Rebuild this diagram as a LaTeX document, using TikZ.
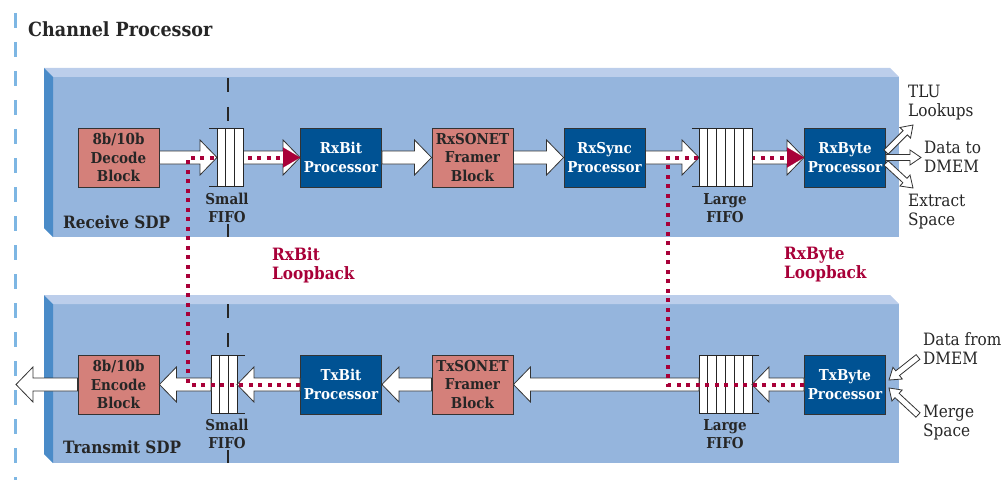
\documentclass[tikz,border=0pt]{standalone}
\usepackage{fontspec}
\setmainfont{DejaVu Serif Condensed}
\usetikzlibrary{calc,arrows.meta}

\definecolor{panelfront}{HTML}{95B5DD}
\definecolor{paneltop}{HTML}{BCCEEB}
\definecolor{panelside}{HTML}{4A8BC8}
\definecolor{salmon}{HTML}{D4807A}
\definecolor{procblue}{HTML}{005293}
\definecolor{loopred}{HTML}{A80038}
\definecolor{edgegray}{HTML}{333333}
\definecolor{sidedash}{HTML}{7DB6E3}

\tikzset{
  block/.style={draw=edgegray, line width=0.9pt, minimum width=81pt, minimum height=59pt,
    inner sep=0pt, align=center, font=\fontsize{15}{18.5}\selectfont\bfseries},
  framer/.style={block, fill=salmon, text=black!85},
  proc/.style={block, fill=procblue, text=white},
  fifo/.style={minimum height=58pt, inner sep=0pt, outer sep=0pt},
  fatarr/.style={draw=edgegray, line width=0.8pt, fill=white, line join=miter},
  loopline/.style={loopred, line width=4pt, dash pattern=on 4pt off 5.5pt,
    -{Triangle[length=17pt,width=20pt,line width=0.1pt]}},
  looplabel/.style={loopred, align=left, anchor=west, inner sep=0pt,
    font=\fontsize{17}{19}\selectfont\bfseries},
  sidelabel/.style={align=left, anchor=west, inner sep=0pt,
    font=\fontsize{17}{19}\selectfont, text=black!85},
  fifolabel/.style={align=center, fill=panelfront, inner sep=1pt,
    font=\fontsize{15}{18}\selectfont\bfseries, text=black!85},
  sdplabel/.style={anchor=base west, inner sep=0pt,
    font=\fontsize{17}{19}\selectfont\bfseries, text=black!85},
}

% fat white arrow: start, tip, shaft half width, head half width, head length
\newcommand\fatarrow[5]{%
  \coordinate (fa-base) at ($(#2)!#5!(#1)$);
  \draw[fatarr] ($(#1)!#3!90:(#2)$) -- ($(fa-base)!#3!90:(#2)$) -- ($(fa-base)!#4!90:(#2)$)
    -- (#2) -- ($(fa-base)!#4!-90:(#2)$) -- ($(fa-base)!#3!-90:(#2)$) -- ($(#1)!#3!-90:(#2)$) -- cycle;}

% fifo cells: node, number of cells, open side, length of open lines
\newcommand\fifocells[4]{%
  \draw[fill=white, draw=black!85, line width=0.9pt] (#1.north west) rectangle (#1.south east);
  \foreach \i in {1,...,#2}
    \draw[black!85, line width=0.9pt] ($(#1.north west)!\i/#2!(#1.north east)$) -- ($(#1.south west)!\i/#2!(#1.south east)$);
  \draw[black!85, line width=0.9pt] (#1.north #3) -- ++(#4,0) (#1.south #3) -- ++(#4,0);}

\begin{document}
\begin{tikzpicture}[x=1pt,y=-1pt]
\useasboundingbox (0,0) rectangle (1006,492);
% frame of the channel processor
\draw[sidedash, line width=3pt, dash pattern=on 15pt off 14pt] (15,13) -- (15,480);
\node[anchor=base west, inner sep=0pt, font=\fontsize{19.5}{22}\selectfont\bfseries, text=black!85] (title) at (28,37) {Channel Processor};

% the two SDP panels
\fill[panelfront] (53,77) rectangle (899,237);
\fill[paneltop] (44,68) -- (890,68) -- (899,77) -- (53,77) -- cycle;
\fill[panelside] (44,68) -- (53,77) -- (53,237) -- (44,228) -- cycle;
\fill[panelfront] (53,304) rectangle (899,463);
\fill[paneltop] (44,295) -- (890,295) -- (899,304) -- (53,304) -- cycle;
\fill[panelside] (44,295) -- (53,304) -- (53,463) -- (44,454) -- cycle;
\draw[black!85, line width=1.8pt, dash pattern=on 14pt off 15pt] (228,78) -- (228,237);
\draw[black!85, line width=1.8pt, dash pattern=on 14pt off 15pt] (228,304) -- (228,463);

% receive blocks
\node[framer] (dec) at (118.5,157.5) {8b/10b\\Decode\\Block};
\node[fifo, minimum width=26pt] (rxsf) at (230,157.5) {};
\node[proc] (rxbit) at (341,157.5) {RxBit\\Processor};
\node[framer] (rxsonet) at (472.5,157.5) {RxSONET\\Framer\\Block};
\node[proc] (rxsync) at (604.5,157.5) {RxSync\\Processor};
\node[fifo, minimum width=53pt] (rxlf) at (725.5,157.5) {};
\node[proc] (rxbyte) at (845,157.5) {RxByte\\Processor};

% transmit blocks
\node[framer] (enc) at (118.5,384.5) {8b/10b\\Encode\\Block};
\node[fifo, minimum width=26pt] (txsf) at (224,384.5) {};
\node[proc] (txbit) at (341,384.5) {TxBit\\Processor};
\node[framer] (txsonet) at (472.5,384.5) {TxSONET\\Framer\\Block};
\node[fifo, minimum width=53pt] (txlf) at (725.5,384.5) {};
\node[proc] (txbyte) at (845,384.5) {TxByte\\Processor};
\fifocells{txsf}{3}{east}{8}
\fifocells{txlf}{6}{east}{7}

% data path
\fatarrow{dec.east}{rxsf.west}{6.5pt}{17.5pt}{17pt}
\fatarrow{rxsf.east}{rxbit.west}{6.5pt}{17.5pt}{17pt}
\fatarrow{rxbit.east}{rxsonet.west}{6.5pt}{17.5pt}{17pt}
\fatarrow{rxsonet.east}{rxsync.west}{6.5pt}{17.5pt}{17pt}
\fatarrow{rxsync.east}{rxlf.west}{6.5pt}{17.5pt}{17pt}
\fatarrow{rxlf.east}{rxbyte.west}{6.5pt}{17.5pt}{17pt}
\coordinate (out) at (16,384.5);
\fatarrow{txbyte.west}{txlf.east}{6.5pt}{17.5pt}{17pt}
\fatarrow{txlf.west}{txsonet.east}{6.5pt}{17.5pt}{17pt}
\fatarrow{txsonet.west}{txbit.east}{6.5pt}{17.5pt}{17pt}
\fatarrow{txbit.west}{txsf.east}{6.5pt}{17.5pt}{17pt}
\fatarrow{txsf.west}{enc.east}{6.5pt}{17.5pt}{17pt}
\fatarrow{enc.west}{out}{6.5pt}{17.5pt}{17pt}

% small arrows at the byte processors
\coordinate (rxb1) at (886,152);
\coordinate (rxb3) at (886,163);
\coordinate (tluin) at (913,125);
\coordinate (dmemout) at (921,157.5);
\coordinate (extract) at (913,188);
\fatarrow{rxb1}{tluin}{3pt}{7.5pt}{11pt}
\fatarrow{rxb3}{extract}{3pt}{7.5pt}{11pt}
\fatarrow{rxbyte.east}{dmemout}{3pt}{7.5pt}{11pt}
\coordinate (dmemin) at (918,357);
\coordinate (mergein) at (918,415);
\coordinate (txb1) at (889,380);
\coordinate (txb2) at (889,388);
\fatarrow{dmemin}{txb1}{3pt}{7.5pt}{11pt}
\fatarrow{mergein}{txb2}{3pt}{7.5pt}{11pt}

% loopbacks
\coordinate (lbbit) at (188,384.5);
\coordinate (lbbyte) at (668,384.5);
\draw[loopline] (txbit.west) -- (lbbit) |- (rxbit.west);
\draw[loopline] (txbyte.west) -- (lbbyte) |- (rxbyte.west);
\fifocells{rxsf}{3}{west}{-8}
\fifocells{rxlf}{6}{west}{-7}

% labels
\node[fifolabel] (rxsflbl) at (227,208) {Small\\FIFO};
\node[fifolabel] (txsflbl) at (227,434) {Small\\FIFO};
\node[fifolabel] (rxlflbl) at (725,208) {Large\\FIFO};
\node[fifolabel] (txlflbl) at (725,434) {Large\\FIFO};
\node[sdplabel] (rxsdp) at (63,228) {Receive SDP};
\node[sdplabel] (txsdp) at (63,453) {Transmit SDP};
\node[looplabel] (rxbitlbl) at (272,265) {RxBit\\Loopback};
\node[looplabel] (rxbytelbl) at (784,265) {RxByte\\Loopback};
\node[sidelabel] (tlu) at (908,103) {TLU\\Lookups};
\node[sidelabel] (dmemto) at (924,157) {Data to\\DMEM};
\node[sidelabel] (extr) at (908,212) {Extract\\Space};
\node[sidelabel] (dmemfrom) at (923,349) {Data from\\DMEM};
\node[sidelabel] (merge) at (923,423) {Merge\\Space};
\end{tikzpicture}
\end{document}
